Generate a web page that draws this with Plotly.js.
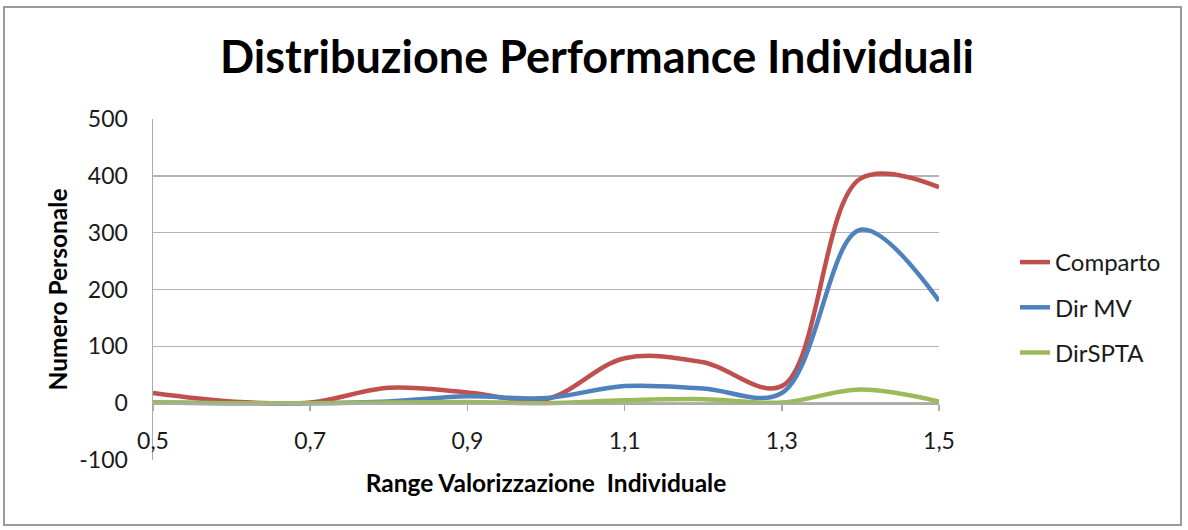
<!DOCTYPE html>
<html>
<head>
<meta charset="utf-8">
<script src="https://cdn.plot.ly/plotly-3.0.1.min.js"></script>
<style>
html,body{margin:0;padding:0;background:#fff;}
#chart{width:1188px;height:530px;}
</style>
</head>
<body>
<div id="chart"></div>
<script>
// Range Valorizzazione Individuale (x values)
const rangeX = [0.5, 0.6, 0.7, 0.8, 0.9, 1.0, 1.1, 1.2, 1.3, 1.4, 1.5];
// Numero Personale per series
const comparto = [18, 3, 1, 27, 19, 7, 79, 72, 30, 395, 380];
const dirMV    = [1, 0, 0, 3, 12, 9, 30, 26, 18, 305, 180];
const dirSPTA  = [1, 0, 0, 1, 2, 0, 5, 7, 1, 24, 3];
const seriesNames = ["Comparto", "Dir MV", "DirSPTA"];
const seriesColors = ["#C0504D", "#4F81BD", "#9BBB59"];
const yTicks = [-100, 0, 100, 200, 300, 400, 500];
const yTickLabels = ["-100", "0", "100", "200", "300", "400", "500"];

const FONT = "Lato, 'Open Sans', sans-serif";
const seriesData = [comparto, dirMV, dirSPTA];

const traces = seriesData.map((vals, i) => ({
  x: rangeX,
  y: vals,
  name: seriesNames[i],
  legendgroup: "g" + i,
  type: "scatter",
  mode: "lines",
  line: {color: seriesColors[i], width: 4.5, shape: "spline", smoothing: 1},
  hoverinfo: "x+y+name"
}));

const L = 153, R = 1188 - 939, T = 119, B = 530 - 460;
const W = 1188 - L - R, H = 530 - T - B;
const px = v => (v - L) / W;
const py = v => (530 - B - v) / H;

const layout = {
  width: 1188,
  height: 530,
  margin: {l: L, r: R, t: T, b: B, pad: 0},
  paper_bgcolor: "#ffffff",
  plot_bgcolor: "#ffffff",
  separators: ",.",
  font: {family: FONT, color: "#1a1a1a", size: 23},
  title: {
    text: "Distribuzione Performance Individuali",
    font: {family: FONT, size: 45, weight: "bold", color: "#000"},
    x: 597 / 1188, xref: "container", xanchor: "center",
    y: 1 - 57 / 530, yref: "container", yanchor: "middle"
  },
  xaxis: {
    range: [0.5, 1.5],
    tick0: 0.5, dtick: 0.2,
    tickformat: ".1f",
    showgrid: false,
    zeroline: false,
    showline: true,
    linecolor: "#ababab",
    linewidth: 1.5,
    ticks: "outside",
    ticklen: 6,
    tickcolor: "#ababab",
    tickwidth: 1.5,
    ticklabelstandoff: 11,
    anchor: "free",
    position: 100 / 600,
    tickfont: {family: FONT, size: 23, color: "#1a1a1a"},
    title: {
      text: "Range Valorizzazione&nbsp;&nbsp;Individuale",
      font: {family: FONT, size: 24.5, weight: "bold", color: "#000"},
      standoff: 21
    },
    fixedrange: true
  },
  yaxis: {
    range: [-100, 500],
    tickvals: yTicks,
    ticktext: yTickLabels,
    showgrid: true,
    gridcolor: "#b4b4b4",
    gridwidth: 1.5,
    zeroline: false,
    showline: true,
    linecolor: "#ababab",
    linewidth: 1.5,
    ticks: "",
    ticklabelstandoff: 19,
    tickfont: {family: FONT, size: 23, color: "#1a1a1a"},
    title: {
      text: "Numero Personale",
      font: {family: FONT, size: 24.5, weight: "bold", color: "#000"},
      standoff: 4
    },
    fixedrange: true
  },
  legend: {
    x: px(1015), xanchor: "left",
    y: py(240), yanchor: "top",
    font: {family: FONT, size: 24, color: "#1a1a1a"},
    tracegroupgap: 11,
    bgcolor: "rgba(0,0,0,0)"
  },
  showlegend: true,
  shapes: [{
    type: "rect", xref: "paper", yref: "paper",
    x0: px(4), x1: px(1181), y0: py(525), y1: py(7),
    line: {color: "#9a9a9a", width: 2},
    fillcolor: "rgba(0,0,0,0)",
    layer: "below"
  }]
};

Plotly.newPlot("chart", traces, layout, {displayModeBar: false, staticPlot: true});
</script>
</body>
</html>
